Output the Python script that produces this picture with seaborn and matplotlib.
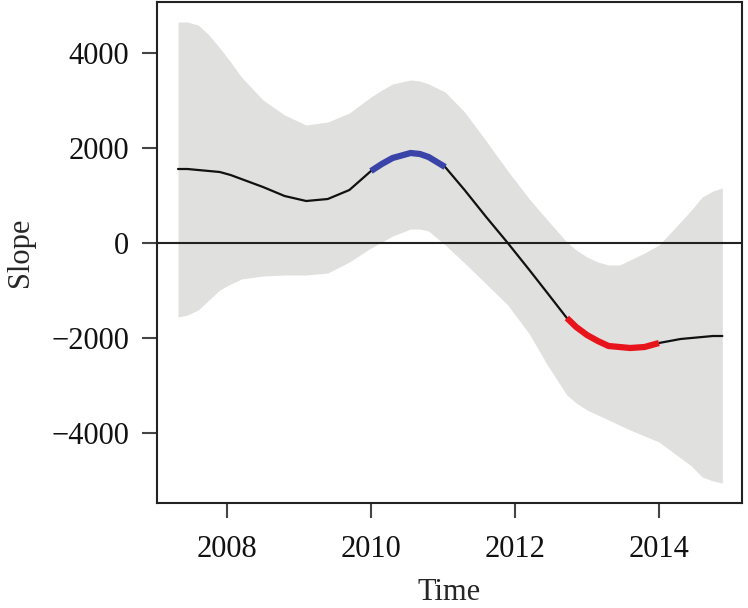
import numpy as np
import pandas as pd
import matplotlib
matplotlib.use("Agg")
import matplotlib.pyplot as plt
import seaborn as sns

# values
time = [2007.32, 2007.45, 2007.6, 2007.75, 2007.9, 2008.05, 2008.2, 2008.5, 2008.8,
        2009.1, 2009.4, 2009.7, 2010.0, 2010.15, 2010.3, 2010.55, 2010.68, 2010.8,
        2011.03, 2011.3, 2011.6, 2011.9, 2012.2, 2012.45, 2012.72, 2012.85, 2013.0,
        2013.15, 2013.3, 2013.45, 2013.6, 2013.8, 2014.0, 2014.3, 2014.45, 2014.6,
        2014.75, 2014.88]
slope = [1554, 1554, 1533, 1512, 1491, 1428, 1344, 1176, 987,
         882, 924, 1113, 1512, 1659, 1785, 1890, 1869, 1806,
         1596, 1113, 546, 0, -567, -1050, -1575, -1764, -1932,
         -2058, -2163, -2184, -2205, -2184, -2100, -2016, -1995, -1974,
         -1953, -1953]
upper = [4640, 4641, 4578, 4368, 4095, 3801, 3486, 3003, 2688,
         2478, 2541, 2730, 3066, 3213, 3339, 3423, 3402, 3339,
         3171, 2751, 2142, 1512, 924, 483, 21, -147, -294,
         -399, -462, -462, -357, -210, -42, 441, 693, 966,
         1092, 1155]
lower = [-1554, -1512, -1407, -1197, -987, -861, -756, -693, -672,
         -672, -630, -399, -105, 21, 147, 294, 294, 252,
         -42, -420, -861, -1302, -1911, -2562, -3192, -3360, -3507,
         -3612, -3717, -3822, -3927, -4053, -4179, -4515, -4683, -4914,
         -4998, -5040]
# significant stretches: rising (blue) and falling (red)
rise_period = (2010.0, 2011.03)
fall_period = (2012.72, 2014.0)

df = pd.DataFrame({"Time": time, "Slope": slope, "upper": upper, "lower": lower})

sns.set_style("ticks")
plt.rcParams["font.family"] = ["Liberation Serif", "DejaVu Serif"]

fig = plt.figure(figsize=(7.48, 6.08), dpi=100)
ax = fig.add_axes([157 / 748, 105 / 608, 585 / 748, 501 / 608])

ax.fill_between(df["Time"], df["lower"], df["upper"], color="#e0e0df", lw=0)
ax.axhline(0, color="#222222", lw=1.5)
sns.lineplot(data=df, x="Time", y="Slope", color="#111111", lw=1.6,
             solid_joinstyle="round", ax=ax)

rise = df[(df["Time"] >= rise_period[0]) & (df["Time"] <= rise_period[1])]
fall = df[(df["Time"] >= fall_period[0]) & (df["Time"] <= fall_period[1])]
sns.lineplot(data=rise, x="Time", y="Slope", color="#3a44a8", lw=4.5,
             solid_capstyle="butt", solid_joinstyle="round", ax=ax)
sns.lineplot(data=fall, x="Time", y="Slope", color="#e8141c", lw=4.5,
             solid_capstyle="butt", solid_joinstyle="round", ax=ax)

ax.set_xlim(2007.028, 2015.153)
ax.set_ylim(-5460, 5061)
ax.set_xticks([2008, 2010, 2012, 2014])
ax.set_yticks([-4000, -2000, 0, 2000, 4000])

for sp in ax.spines.values():
    sp.set_color("#222222")
    sp.set_linewidth(1.5)
ax.tick_params(axis="both", length=11, width=1.5, color="#444444",
               labelsize=22, colors="#111111")
ax.tick_params(axis="x", pad=12)
ax.tick_params(axis="y", pad=9)

ax.set_xlabel("Time", fontsize=22, labelpad=10)
ax.set_ylabel("Slope", fontsize=22, labelpad=12)

fig.savefig("out.png", dpi=100)
